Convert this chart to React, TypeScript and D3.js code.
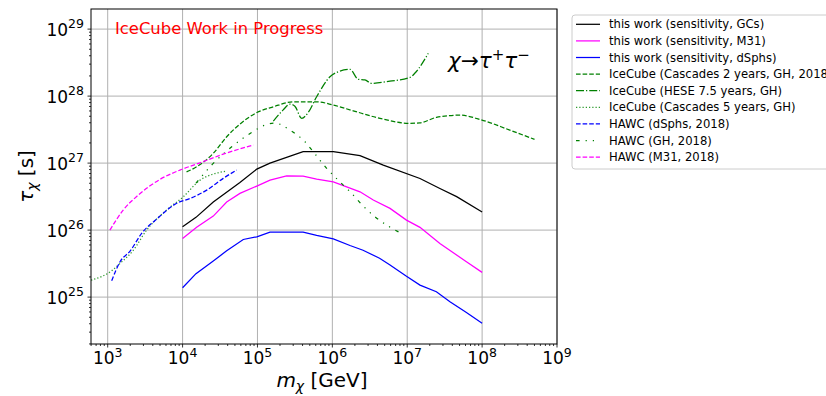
import React from 'react'
import * as d3 from 'd3'

// dark matter lifetime limits, chi -> tau+ tau-
const gcMass = [1e4, 1.51e4, 2.57e4, 5.83e4, 9.8e4, 1.47e5, 4.07e5, 1.03e6, 2.34e6, 4.79e6, 1.48e7, 2.73e7, 4.57e7, 1e8]
const gcTau = [1.12e26, 1.55e26, 2.63e26, 5.13e26, 8.13e26, 1.0e27, 1.48e27, 1.48e27, 1.29e27, 9.33e26, 5.89e26, 4.17e26, 3.16e26, 1.86e26]

const m31Mass = [1e4, 1.54e4, 2.57e4, 3.88e4, 5.83e4, 9.8e4, 1.47e5, 2.45e5, 4.07e5, 6.17e5, 1.03e6, 2.34e6, 3.52e6, 5.89e6, 9.77e6, 1.48e7, 2.73e7, 6.17e7, 1e8]
const m31Tau = [7.52e25, 1.1e26, 1.62e26, 2.63e26, 3.53e26, 4.54e26, 5.57e26, 6.46e26, 6.4e26, 5.77e26, 5.25e26, 3.73e26, 2.81e26, 2.11e26, 1.41e26, 1.1e26, 6.31e25, 3.37e25, 2.34e25]

const dsphMass = [1e4, 1.51e4, 2.57e4, 3.88e4, 6.46e4, 9.8e4, 1.47e5, 4.07e5, 6.17e5, 1.03e6, 1.72e6, 2.57e6, 4.27e6, 5.89e6, 9.77e6, 1.48e7, 2.45e7, 3.72e7, 6.17e7, 1e8]
const dsphTau = [1.38e25, 2.24e25, 3.47e25, 4.9e25, 7.24e25, 7.94e25, 9.33e25, 9.33e25, 8.32e25, 7.41e25, 5.89e25, 5.01e25, 3.8e25, 3.02e25, 2.04e25, 1.51e25, 1.2e25, 8.51e24, 5.89e24, 4.07e24]

const casc2Mass = [1.13e4, 1.54e4, 2.57e4, 3.88e4, 5.83e4, 9.8e4, 1.63e5, 3.01e5, 6.17e5, 1.03e6, 1.9e6, 4.33e6, 1.09e7, 1.48e7, 2.45e7, 5.01e7, 9.33e7, 2.34e8, 5.01e8]
const casc2Tau = [7.41e26, 8.81e26, 1.4e27, 2.47e27, 3.82e27, 5.68e27, 6.92e27, 8.22e27, 8.22e27, 7.35e27, 6.03e27, 4.65e27, 3.92e27, 3.98e27, 4.81e27, 5.2e27, 4.49e27, 3.11e27, 2.26e27]

const heseMass = [1.63e5, 2.19e5, 2.72e5, 3.16e5, 3.89e5, 4.72e5, 6.17e5, 9.29e5, 1.2e6, 1.72e6, 2.22e6, 2.72e6, 3.35e6, 5.87e6, 1.09e7, 1.26e7, 1.91e7]
const heseTau = [4.24e27, 6.17e27, 7.59e27, 7.08e27, 4.65e27, 5.62e27, 9.77e27, 1.94e28, 2.31e28, 2.51e28, 1.78e28, 1.74e28, 1.55e28, 1.67e28, 1.9e28, 2.19e28, 4.34e28]

const casc5Mass = [600, 1130, 1460, 2200, 3310, 6140, 1.02e4, 1.71e4, 2.57e4, 3.88e4]
const casc5Tau = [1.79e25, 2.47e25, 3.18e25, 5.01e25, 1.0e26, 2.0e26, 3.14e26, 5.57e26, 6.86e26, 7.6e26]

const hawcDsphMass = [1130, 1460, 1990, 2840, 4510, 8340, 1.26e4, 2.1e4, 3.49e4, 5.27e4]
const hawcDsphTau = [1.75e25, 3.37e25, 4.86e25, 8.93e25, 1.46e26, 2.51e26, 2.97e26, 3.95e26, 5.92e26, 7.87e26]

const hawcGhMass = [1.51e4, 2.57e4, 4.53e4, 8.38e4, 1.26e5, 1.71e5, 2.72e5, 4.31e5, 5.56e5, 8.39e5, 1.26e6, 1.81e6, 2.59e6, 3.71e6, 5.57e6, 8.69e6]
const hawcGhTau = [5.01e26, 9.91e26, 1.75e27, 2.87e27, 3.69e27, 3.95e27, 3.11e27, 2.08e27, 1.48e27, 8.34e26, 5.26e26, 3.53e26, 2.28e26, 1.58e26, 1.15e26, 8.71e25]

const hawcM31Mass = [1070, 1610, 2560, 4990, 9230, 1.71e4, 3.49e4, 8.79e4]
const hawcM31Tau = [1.0e26, 1.99e26, 3.33e26, 5.71e26, 7.87e26, 1.01e27, 1.36e27, 1.86e27]

const xTicks = [1e3, 1e4, 1e5, 1e6, 1e7, 1e8, 1e9]
const yTicks = [1e25, 1e26, 1e27, 1e28, 1e29]

const GREEN = '#008000'
const LW = 1.25

const series = [
  { label: 'this work (sensitivity, GCs)', m: gcMass, t: gcTau, color: '#000000', dash: '', smooth: false },
  { label: 'this work (sensitivity, M31)', m: m31Mass, t: m31Tau, color: '#ff00ff', dash: '', smooth: false },
  { label: 'this work (sensitivity, dSphs)', m: dsphMass, t: dsphTau, color: '#0000ff', dash: '', smooth: false },
  { label: 'IceCube (Cascades 2 years, GH, 2018)', m: casc2Mass, t: casc2Tau, color: GREEN, dash: '4.6,2', smooth: true },
  { label: 'IceCube (HESE 7.5 years, GH)', m: heseMass, t: heseTau, color: GREEN, dash: '8,2,1.25,2', smooth: true },
  { label: 'IceCube (Cascades 5 years, GH)', m: casc5Mass, t: casc5Tau, color: '#2e9a2e', dash: '1.25,2', smooth: true },
  { label: 'HAWC (dSphs, 2018)', m: hawcDsphMass, t: hawcDsphTau, color: '#0000ff', dash: '4.6,2', smooth: true },
  { label: 'HAWC (GH, 2018)', m: hawcGhMass, t: hawcGhTau, color: GREEN, dash: '3.6,6,1.2,6,1.2,6', smooth: true },
  { label: 'HAWC (M31, 2018)', m: hawcM31Mass, t: hawcM31Tau, color: '#ff00ff', dash: '4.6,2', smooth: true },
]

const L = 91, R = 557, T = 9, B = 344
const font = 'DejaVu Sans, sans-serif'

const App = () => {
  const x = d3.scaleLog().domain([10 ** 2.777, 1e9]).range([L, R])
  const y = d3.scaleLog().domain([10 ** 24.3, 10 ** 29.3]).range([B, T])

  const minorX: number[] = []
  for (let e = 2; e < 9; e++) for (let k = 2; k < 10; k++) {
    const v = k * 10 ** e
    if (v >= x.domain()[0] && v <= 1e9) minorX.push(v)
  }
  const minorY: number[] = []
  for (let e = 24; e < 30; e++) for (let k = 2; k < 10; k++) {
    const v = k * 10 ** e
    if (v >= y.domain()[0] && v <= y.domain()[1]) minorY.push(v)
  }

  const straight = d3.line<[number, number]>().x(d => x(d[0])).y(d => y(d[1]))
  const smooth = d3.line<[number, number]>().x(d => x(d[0])).y(d => y(d[1])).curve(d3.curveMonotoneX)

  return (
    <svg width={826} height={396} style={{ position: 'absolute', left: 0, top: 0, background: '#fff' }} fontFamily={font}>
      <defs>
        <clipPath id="plot"><rect x={L} y={T} width={R - L} height={B - T} /></clipPath>
      </defs>

      {/* grid */}
      <g stroke="#b0b0b0" strokeWidth={1}>
        {xTicks.map(v => <line key={'gx' + v} x1={x(v)} x2={x(v)} y1={T} y2={B} />)}
        {yTicks.map(v => <line key={'gy' + v} x1={L} x2={R} y1={y(v)} y2={y(v)} />)}
      </g>

      {/* curves */}
      <g clipPath="url(#plot)" fill="none">
        {series.map(s => {
          const pts = s.m.map((m, i) => [m, s.t[i]] as [number, number])
          return (
            <path key={s.label} d={(s.smooth ? smooth : straight)(pts) || ''}
              stroke={s.color} strokeWidth={LW} strokeDasharray={s.dash || undefined} />
          )
        })}
      </g>

      {/* spines */}
      <rect x={L} y={T} width={R - L} height={B - T} fill="none" stroke="#000" strokeWidth={1} />

      {/* ticks */}
      <g stroke="#000" strokeWidth={0.8}>
        {xTicks.map(v => <line key={'tx' + v} x1={x(v)} x2={x(v)} y1={B} y2={B + 3.5} />)}
        {minorX.map(v => <line key={'mx' + v} x1={x(v)} x2={x(v)} y1={B} y2={B + 2} />)}
        {yTicks.map(v => <line key={'ty' + v} x1={L - 3.5} x2={L} y1={y(v)} y2={y(v)} />)}
        {minorY.map(v => <line key={'my' + v} x1={L - 2} x2={L} y1={y(v)} y2={y(v)} />)}
      </g>

      {/* tick labels */}
      <g fontSize={17} fill="#000">
        {xTicks.map(v => (
          <text key={'lx' + v} x={x(v)} y={364} textAnchor="middle">
            10<tspan fontSize={12.5} dy={-7.5}>{Math.round(Math.log10(v))}</tspan>
          </text>
        ))}
        {yTicks.map(v => (
          <text key={'ly' + v} x={84} y={y(v) + 6.5} textAnchor="end">
            10<tspan fontSize={12.5} dy={-7.5}>{Math.round(Math.log10(v))}</tspan>
          </text>
        ))}
      </g>

      {/* axis labels */}
      <text x={322} y={387} fontSize={20} textAnchor="middle">
        <tspan fontStyle="italic">m</tspan>
        <tspan fontSize={14} dy={4} fontStyle="italic">χ</tspan>
        <tspan dy={-4}> [GeV]</tspan>
      </text>
      <text transform={`translate(33,${(T + B) / 2}) rotate(-90)`} fontSize={20} textAnchor="middle">
        <tspan fontStyle="italic">τ</tspan>
        <tspan fontSize={14} dy={4} fontStyle="italic">χ</tspan>
        <tspan dy={-4}> [s]</tspan>
      </text>

      {/* annotations */}
      <text x={115} y={33.5} fontSize={16.4} fill="#ff0000">IceCube Work in Progress</text>
      <text x={448} y={68} fontSize={21.5}>
        <tspan fontStyle="italic">χ</tspan>
        <tspan>→</tspan>
        <tspan fontStyle="italic">τ</tspan>
        <tspan fontSize={15} dy={-8}>+</tspan>
        <tspan fontStyle="italic" dy={8}>τ</tspan>
        <tspan fontSize={15} dy={-8}>−</tspan>
      </text>

      {/* legend */}
      <rect x={572} y={15} width={272} height={154} rx={3} fill="#fff" fillOpacity={0.8} stroke="#cccccc" strokeWidth={1} />
      {series.map((s, i) => {
        const cy = 24.3 + i * 16.6
        return (
          <g key={'lg' + s.label}>
            <line x1={576} x2={600} y1={cy} y2={cy} stroke={s.color} strokeWidth={LW} strokeDasharray={s.dash || undefined} />
            <text x={609} y={cy + 4.1} fontSize={11.6}>{s.label}</text>
          </g>
        )
      })}
    </svg>
  )
}

export default App
